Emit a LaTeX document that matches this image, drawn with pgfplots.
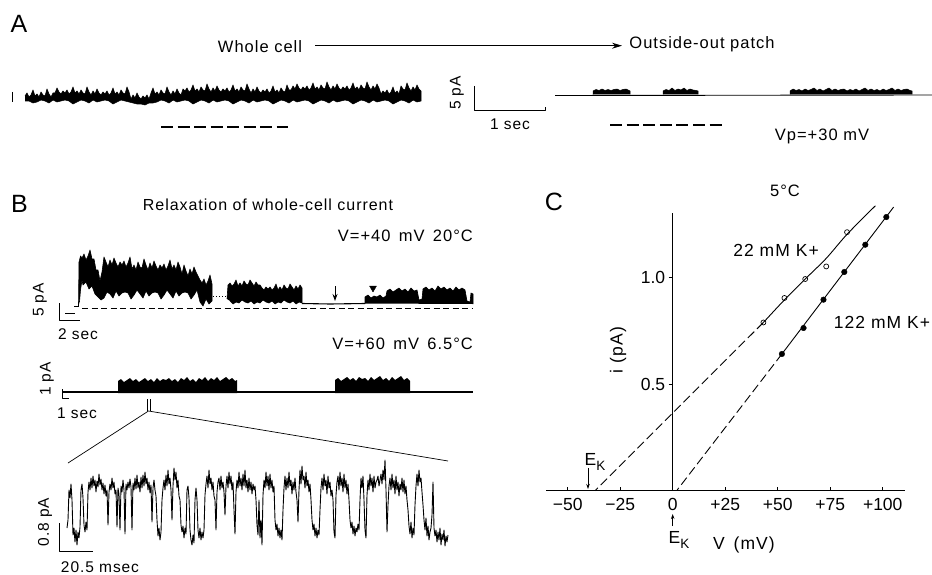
\documentclass[border=0pt]{standalone}
\usepackage{pgfplots}
\pgfplotsset{compat=1.18}
\usetikzlibrary{arrows.meta}
\usepackage{fontspec}
\setmainfont{Liberation Sans}
\newfontfamily\lsf{Liberation Sans}[LetterSpace=6]
\newcommand\fs[1]{\fontsize{#1}{#1}\selectfont}
\begin{document}
\begin{tikzpicture}[line join=round]
\path[use as bounding box] (0,0) rectangle (932pt,575pt);
% ================= overlay axis in reference pixel units (panels A, B, all texts)
\begin{axis}[at={(0pt,0pt)}, anchor=south west, width=932pt, height=575pt, scale only axis,
  xmin=0, xmax=932, ymin=0, ymax=575, y dir=reverse, hide axis, clip=false,
  every axis plot/.append style={line join=round}]
% ---------- Panel A, whole cell
\addplot[black, line width=1.2pt] coordinates {(12.5,92)(12.5,102)};
\addplot[fill=black, draw=black, line width=0.6pt] coordinates {
(25,96)(27,93)(29,97)(31,95)(33,90)(35,96)(37,94)(39,97)(41,92)(43,95)(45,96)(47,89)(49,94)(51,97)(53,93)
(55,93)(57,88)(59,92)(61,94)(63,91)(65,93)(67,90)(69,94)(71,92)(73,87)(75,93)(77,91)(79,94)
(81,90)(83,93)(85,94)(87,87)(89,92)(91,95)(93,91)(95,94)(97,89)(99,93)(101,95)(103,92)(105,94)(107,91)
(109,95)(111,93)(113,88)(115,94)(117,92)(119,95)(121,90)(123,93)(125,94)(127,87)(129,92)
(131,99)(133,95)(135,98)(137,93)(139,97)(141,99)(143,96)(145,98)(147,95)(149,99)
(151,93)(153,88)(155,94)(157,92)(159,95)(161,90)(163,93)(165,94)(167,87)(169,92)(171,95)(173,91)(175,94)
(177,89)(179,93)(181,95)(183,89)(185,91)(187,88)(189,92)(191,90)(193,85)(195,91)(197,89)(199,92)(201,87)
(203,90)(205,91)(207,84)(209,89)(211,92)(213,88)(215,91)(217,86)(219,90)(221,92)(223,89)(225,91)(227,88)
(229,92)(231,90)(233,85)(235,91)(237,89)(239,92)(241,87)(243,90)(245,91)(247,84)(249,89)
(251,93)(253,89)(255,92)(257,87)(259,91)(261,93)(263,90)(265,92)(267,89)(269,93)(271,91)(273,86)(275,92)
(277,90)(279,93)(281,88)(283,91)(285,92)(287,85)(289,90)
(291,90)(293,86)(295,89)(297,84)(299,88)(301,90)(303,87)(305,89)(307,86)(309,90)(311,88)(313,83)(315,89)
(317,87)(319,90)(321,85)(323,88)(325,89)(327,82)(329,87)(331,90)(333,86)(335,89)(337,84)(339,88)(341,90)
(343,87)(345,89)(347,86)(349,90)(351,88)(353,83)(355,89)(357,87)(359,90)(361,85)(363,88)(365,89)(367,82)
(369,87)(371,90)(373,86)(375,89)(377,84)(379,88)
(381,94)(383,91)(385,93)(387,90)(389,94)(391,92)(393,87)(395,93)(397,91)(399,94)
(401,86)(403,89)(405,90)(407,83)(409,88)(411,91)(413,87)(415,90)(417,85)(419,89)(421,91)
(421,101)(417,102)(413,100)(409,103)(405,101)(401,100)(397,102)(393,104)(389,101)(385,100)(381,101)
(377,102)(373,100)(369,103)(365,101)(361,100)(357,102)(353,104)(349,101)(345,100)(341,101)(337,102)
(333,100)(329,103)(325,101)(321,100)(317,102)(313,104)(309,101)(305,100)(301,101)(297,102)(293,100)
(289,103)(285,101)(281,100)(277,102)(273,104)(269,101)(265,100)(261,101)(257,102)(253,100)(249,103)
(245,101)(241,100)(237,102)(233,104)(229,101)(225,100)(221,101)(217,102)(213,100)(209,103)(205,101)
(201,100)(197,102)(193,104)(189,101)(185,100)(181,101)(177,102)(173,100)(169,103)(165,101)(161,100)
(157,102)(153,103)(149,103)(145,105)(141,104)(137,104)(133,103)(129,102)(125,101)(121,100)(117,102)
(113,104)(109,101)(105,100)(101,101)(97,102)(93,100)(89,103)(85,101)(81,100)(77,102)(73,104)(69,101)
(65,100)(61,101)(57,102)(53,100)(49,103)(45,101)(41,100)(37,102)(33,103)(29,101)(25,101)};
\addplot[black, line width=2.2pt, dash pattern=on 12pt off 4.5pt] coordinates {(161,127)(288,127)};
% arrow whole cell -> outside-out
\addplot[black, line width=1pt, -{Stealth[length=10pt,width=6pt]}] coordinates {(315,45.7)(622,45.7)};
% scale bar A
\addplot[black, line width=1pt] coordinates {(474,86)(474,111)(545,111)(545,107)};
% ---------- Panel A, outside-out patch
\addplot[black, line width=0.9pt] coordinates {(555,95.5)(932,95)};
\addplot[fill=black, draw=black, line width=0.5pt] coordinates {(593,94.5)(593,91)(596,89.5)(599,90.5)(602,89)(605,90.5)(608,89.5)(611,90.5)(614,89.5)(617,89)(620,90.5)(623,89.5)(626,89)(629,90.5)(630,91)(630,94.5)};
\addplot[fill=black, draw=black, line width=0.5pt] coordinates {(663,94.5)(663,91)(666,89.5)(669,90.5)(672,88)(675,90.5)(678,89)(681,90)(684,88)(687,90.5)(690,89)(693,90)(696,90.5)(698,91)(698,94.5)};
\addplot[fill=black, draw=black, line width=0.5pt] coordinates {(790,94.5)(790,91)(793,89)(796,90.5)(799,89.5)(802,91)(805,89)(808,90.5)(811,89.5)(814,88)(817,90.5)(820,89)(823,91)(826,89.5)(829,88)(832,90.5)(835,89)(838,90.5)(841,89.5)(844,89)(847,91)(850,89.5)(853,90.5)(856,89)(859,91)(862,89.5)(865,88)(868,90.5)(871,89)(874,90.5)(877,89.5)(880,91)(883,89)(886,90.5)(889,89.5)(892,88)(895,90.5)(898,89)(901,90.5)(904,89.5)(907,89)(910,90.5)(912,91)(912,94.5)};
\addplot[black, line width=2.2pt, dash pattern=on 12pt off 4.6pt] coordinates {(610,125)(726,125)};
% ---------- Panel B1
\addplot[black, line width=1.2pt, dash pattern=on 6pt off 3.5pt] coordinates {(82,308.5)(473,308.5)};
\addplot[black, line width=1pt] coordinates {(74,306)(78.5,306)};
\addplot[fill=black, draw=black, line width=0.6pt] coordinates {
(78.5,306)(79,262)(80.5,256)(82,258)(84,254)(86,260)(88,256)(90,250)(92,259)(94,259)(96,270)(98,270)
(100,281)(102,272)(104,257)(106,262)(108,267)(110,260)(112,265)(114,258)(116,263)(118,267)(120,262)
(122,265)(124,261)(126,267)(128,263)(130,257)(132,269)(134,265)(136,270)(138,262)(140,267)(142,268)
(144,259)(146,265)(148,270)(150,263)(152,268)(154,261)(156,266)(158,270)(160,265)(162,268)(164,264)
(166,270)(168,266)(170,260)(172,269)(174,265)(176,270)(178,262)(180,267)(182,274)(184,265)(186,271)
(188,276)(190,269)(192,274)(194,267)(196,272)(198,276)(200,280)(202,283)(204,279)(206,285)(208,281)
(210,275)(212,284)
(212,301)(209,304)(206,299)(203,306)(200,302)(197,290)(194,295)(191,299)(188,293)(185,292)(182,293)
(179,296)(176,291)(173,298)(170,294)(167,290)(164,295)(161,299)(158,293)(155,292)(152,293)(149,296)
(146,291)(143,298)(140,294)(137,290)(134,295)(131,299)(128,293)(125,292)(122,293)(119,296)(116,291)
(113,298)(110,294)(107,292)(104,298)(101,300)(98,297)(95,294)(92,286)(89,289)(86,282)(83,285)(82,280)
(80.5,290)(79.5,302)};
\addplot[black, line width=1pt, dash pattern=on 1pt off 2pt] coordinates {(213,296)(227,296)};
\addplot[fill=black, draw=black, line width=0.6pt] coordinates {
(227,299)(228,285)(230,283)(232,286)(234,284)(236,280)(238,286)(240,283)(242,286)(244,281)(246,284)
(248,285)(250,280)(252,283)(254,286)(256,282)(258,285)(260,285)(262,288)(264,290)(266,287)(268,289)
(270,287)(272,290)(274,288)(276,284)(278,290)(280,287)(282,290)(284,285)(286,288)(288,289)(290,284)
(292,287)(294,290)(296,286)(298,289)(300,285)(302,288)
(302,303)(299,302)(296,304)(293,301)(290,303)(287,302)(284,300)(281,303)(278,302)(275,304)(272,301)
(269,303)(266,302)(263,300)(260,303)(257,302)(254,304)(251,301)(248,303)(245,302)(242,300)(239,303)
(236,302)(233,304)(230,301)};
\addplot[black, line width=1.1pt] coordinates {(302,303.5)(330,304)(365,303.5)};
\addplot[fill=black, draw=black, line width=0.6pt] coordinates {(365,303.5)(365,297)(368,295)(371,298)(374,296)(377,297)(380,295)(383,298)(386,296)(387,291)(390,289)(393,292)(396,290)(399,288)(402,291)(405,289)(408,292)(411,288)(414,291)(417,290)(419,300)(422,299)(423,289)(426,287)(429,290)(432,288)(435,291)(438,286)(441,289)(444,287)(447,290)(450,288)(453,291)(456,287)(459,290)(462,288)(465,290)(467,301)(470,302)(471,293)(473,294)(473,304)};
\addplot[black, line width=1pt, -{Stealth[length=7pt,width=5pt]}] coordinates {(335,286)(335,301)};
\addplot[black, only marks, mark=triangle*, mark size=4pt, mark options={rotate=180}] coordinates {(373,288)};
% scale bar B1
\addplot[black, line width=1pt] coordinates {(59,303)(59,320)(80,320)};
\addplot[black, line width=1pt] coordinates {(65,313)(75,313)};
% ---------- Panel B2
\addplot[black, line width=2.5pt] coordinates {(63,392)(473,392)};
\addplot[fill=black, draw=none] coordinates {(118,393)(118,381)(121,379)(124,382)(127,380)(130,378)(133,381)(136,379)(139,382)(142,380)(145,378)(148,381)(151,379)(154,382)(157,378)(160,381)(163,379)(166,380)(169,378)(172,381)(175,379)(178,382)(181,378)(184,380)(187,377)(190,381)(193,379)(196,382)(199,378)(202,380)(205,377)(208,381)(211,378)(214,380)(217,377)(220,381)(223,379)(226,377)(229,380)(232,378)(235,381)(237,380)(237,393)};
\addplot[fill=black, draw=none] coordinates {(335,393)(335,380)(338,378)(341,381)(344,379)(347,377)(350,380)(353,378)(356,381)(359,377)(362,379)(365,378)(368,381)(371,377)(374,380)(377,378)(380,376)(383,380)(386,378)(389,381)(392,377)(395,380)(398,378)(401,376)(404,380)(407,378)(410,381)(410,393)};
\addplot[black, line width=1pt] coordinates {(62,389)(62,398)(69,398)};
% zoom marks
\addplot[black, line width=0.8pt] coordinates {(147,399)(147,411)};
\addplot[black, line width=0.8pt] coordinates {(150,399)(150,411)};
\addplot[black, line width=0.7pt] coordinates {(68,463)(148.5,411)(448,461)};
% ---------- Panel B3
\addplot[black, line width=0.9pt] coordinates {
(67,528)(68,520)(69,490)(70,498)(71,484)(72,500)(73,535)(74,528)(75,542)(76,530)(77,545)(78,532)(79,538)
(80,527)(81,490)(82,484)(83,498)(84,525)(85,532)(86,522)(87,530)(88,492)(89,482)(90,490)(91,478)(92,488)
(93,476)(94,486)(95,480)(96,492)(97,481)(98,487)(99,474)(100,485)(101,479)(102,490)(103,483)(104,494)
(105,485)(106,496)(107,490)(108,525)(109,492)(110,484)(111,490)(112,478)(113,488)(114,482)(115,494)
(116,490)(117,527)(118,488)(119,494)(120,530)(121,486)(122,492)(123,480)(124,490)(125,534)(126,484)
(127,490)(128,482)(129,488)(130,479)(131,487)(132,530)(133,483)(134,490)(135,478)(136,489)(137,475)
(138,488)(139,482)(140,492)(141,477)(142,488)(143,475)(144,486)(145,472)(146,484)(147,478)(148,490)
(149,482)(150,493)(151,485)(152,522)(153,488)(154,480)(155,490)(156,496)(157,520)(158,536)(159,528)
(160,540)(161,532)(162,500)(163,488)(164,480)(165,490)(166,475)(167,486)(168,470)(169,484)(170,478)
(171,490)(172,520)(173,486)(174,468)(175,480)(176,472)(177,488)(178,480)(179,496)(180,500)(181,525)
(182,532)(183,526)(184,538)(185,528)(186,534)(187,490)(188,486)(189,498)(190,530)(191,540)(192,545)
(193,535)(194,543)(195,500)(196,488)(197,500)(198,530)(199,538)(200,528)(201,540)(202,532)(203,538)
(204,530)(205,495)(206,484)(207,476)(208,488)(209,470)(210,484)(211,478)(212,490)(213,482)(214,496)
(215,500)(216,530)(217,492)(218,482)(219,478)(220,490)(221,476)(222,488)(223,482)(224,492)(225,515)
(226,486)(227,476)(228,488)(229,472)(230,484)(231,476)(232,490)(233,482)(234,510)(235,534)(236,492)
(237,480)(238,488)(239,472)(240,486)(241,478)(242,490)(243,474)(244,486)(245,470)(246,488)(247,480)
(248,492)(249,478)(250,490)(251,482)(252,494)(253,484)(254,490)(255,486)(256,500)(257,525)(258,535)
(259,500)(260,538)(261,520)(262,545)(263,495)(264,480)(265,488)(266,472)(267,486)(268,476)(269,490)
(270,474)(271,488)(272,480)(273,492)(274,486)(275,520)(276,530)(277,524)(278,536)(279,528)(280,538)
(281,530)(282,540)(283,510)(284,488)(285,476)(286,490)(287,478)(288,488)(289,472)(290,486)(291,480)
(292,494)(293,482)(294,490)(295,478)(296,492)(297,500)(298,522)(299,490)(300,470)(301,484)(302,466)
(303,480)(304,476)(305,488)(306,472)(307,486)(308,480)(309,492)(310,484)(311,500)(312,520)(313,530)
(314,524)(315,536)(316,528)(317,538)(318,530)(319,535)(320,510)(321,488)(322,478)(323,490)(324,474)
(325,486)(326,480)(327,494)(328,476)(329,488)(330,482)(331,496)(332,490)(333,500)(334,532)(335,538)
(336,495)(337,482)(338,476)(339,490)(340,472)(341,486)(342,478)(343,492)(344,474)(345,488)(346,480)
(347,494)(348,484)(349,500)(350,520)(351,528)(352,522)(353,534)(354,526)(355,536)(356,528)(357,532)
(358,524)(359,530)(360,500)(361,478)(362,488)(363,476)(364,500)(365,530)(366,538)(367,495)(368,480)
(369,490)(370,474)(371,486)(372,478)(373,492)(374,476)(375,488)(376,482)(377,480)(378,476)(379,486)
(380,480)(381,474)(382,484)(383,470)(384,480)(385,460)(386,490)(387,532)(388,505)(389,486)(390,478)
(391,490)(392,474)(393,488)(394,480)(395,494)(396,476)(397,490)(398,482)(399,496)(400,484)(401,490)
(402,478)(403,492)(404,480)(405,494)(406,486)(407,500)(408,510)(409,526)(410,534)(411,522)(412,538)
(413,528)(414,535)(415,505)(416,486)(417,474)(418,486)(419,470)(420,482)(421,478)(422,492)(423,505)
(424,520)(425,530)(426,518)(427,536)(428,526)(429,540)(430,532)(431,528)(432,515)(433,482)(434,528)
(435,536)(436,530)(437,542)(438,532)(439,540)(440,528)(441,545)(442,534)(443,540)(444,530)(445,546)
(446,536)(447,542)(448,535)};
\addplot[black, line width=1pt] coordinates {(59,523)(59,551.5)(93,551.5)};
% ---------- texts
\node[font=\fs{25}] at (axis cs:19,24) {A};
\node[font=\lsf\fs{16.5}] at (axis cs:260,47) {Whole cell};
\node[font=\lsf\fs{16.5}] at (axis cs:702,44) {Outside-out patch};
\node[font=\lsf\fs{15.5}, rotate=90] at (axis cs:457,93) {5 pA};
\node[font=\lsf\fs{15.5}] at (axis cs:510,124.5) {1 sec};
\node[font=\lsf\fs{16.5}] at (axis cs:822,136) {Vp=+30 mV};
\node[font=\fs{25}] at (axis cs:19.5,204) {B};
\node[font=\lsf\fs{16}] at (axis cs:268,205) {Relaxation of whole-cell current};
\node[font=\lsf\fs{16.5}, anchor=east, inner sep=0pt] at (axis cs:473,236) {V=+40\, mV\, 20°C};
\node[font=\lsf\fs{15.5}, rotate=90] at (axis cs:40,300) {5 pA};
\node[font=\lsf\fs{15.5}] at (axis cs:78,334) {2 sec};
\node[font=\lsf\fs{16.5}, anchor=east, inner sep=0pt] at (axis cs:473,344) {V=+60\, mV\, 6.5°C};
\node[font=\lsf\fs{15.5}, rotate=90] at (axis cs:47,379) {1 pA};
\node[font=\lsf\fs{15.5}] at (axis cs:77,413) {1 sec};
\node[font=\lsf\fs{15.5}, rotate=90] at (axis cs:45,522) {0.8 pA};
\node[font=\lsf\fs{15.5}] at (axis cs:100,567) {20.5 msec};
\node[font=\fs{25}] at (axis cs:554,202) {C};
\node[font=\lsf\fs{16.5}] at (axis cs:785,191) {5°C};
\node[font=\lsf\fs{17.5}] at (axis cs:776,250) {22 mM K+};
\node[font=\lsf\fs{17.5}] at (axis cs:882,322) {122 mM K+};
\node[font=\lsf\fs{17.5}, rotate=90] at (axis cs:618,350) {i (pA)};
\node[font=\lsf\fs{17.5}] at (axis cs:744,545) {V\, (mV)};
\node[font=\fs{17.5}] at (axis cs:595,462) {E\raisebox{-0.45ex}{\fs{13.5}K}};
\node[font=\fs{17.5}] at (axis cs:679,540) {E\raisebox{-0.45ex}{\fs{13.5}K}};
\addplot[black, line width=0.8pt, -{Stealth[length=5pt,width=3.5pt]}] coordinates {(588,468)(588,489)};
\addplot[black, line width=0.8pt, -{Stealth[length=5pt,width=3.5pt]}] coordinates {(672.7,526)(672.7,514)};
\end{axis}
% ================= Panel C
\begin{axis}[at={(546pt,84.3pt)}, anchor=south west, width=359pt, height=277.7pt, scale only axis,
  xmin=-60.3, xmax=110.6, ymin=0, ymax=1.304,
  axis x line=bottom, axis y line=middle,
  axis line style={-, line width=0.9pt, black},
  xtick={-50,-25,0,25,50,75,100},
  xticklabels={−50,−25,0,+25,+50,+75,+100},
  ytick={0.5,1.0}, yticklabels={0.5,1.0},
  tick align=outside, major tick length=4pt,
  xtick style={yshift=4pt, black, line width=0.8pt},
  ytick style={black, line width=0.8pt},
  tick label style={font=\fs{17.5}},
  clip=false]
\addplot[black, line width=0.9pt, smooth] coordinates {(43.2,0.79)(53.2,0.896)(63.1,0.994)(73.1,1.091)(83,1.204)(96.5,1.338)};
\addplot[black, line width=0.9pt, dash pattern=on 9pt off 4pt] coordinates {(43.2,0.79)(-37,0)};
\addplot[black, line width=0.9pt] coordinates {(52,0.642)(105.2,1.332)};
\addplot[black, line width=0.9pt, dash pattern=on 9pt off 4pt] coordinates {(52,0.642)(1.9,0)};
\addplot[black, only marks, mark=o, mark size=2.5pt, mark options={fill=white, line width=0.7pt}] coordinates {(43.2,0.79)(53.2,0.905)(63.1,0.994)(73.1,1.053)(83,1.214)};
\addplot[black, only marks, mark=*, mark size=2.8pt] coordinates {(52,0.642)(62.3,0.764)(71.8,0.897)(81.7,1.027)(91.7,1.155)(101.7,1.285)};
\end{axis}
\end{tikzpicture}
\end{document}
